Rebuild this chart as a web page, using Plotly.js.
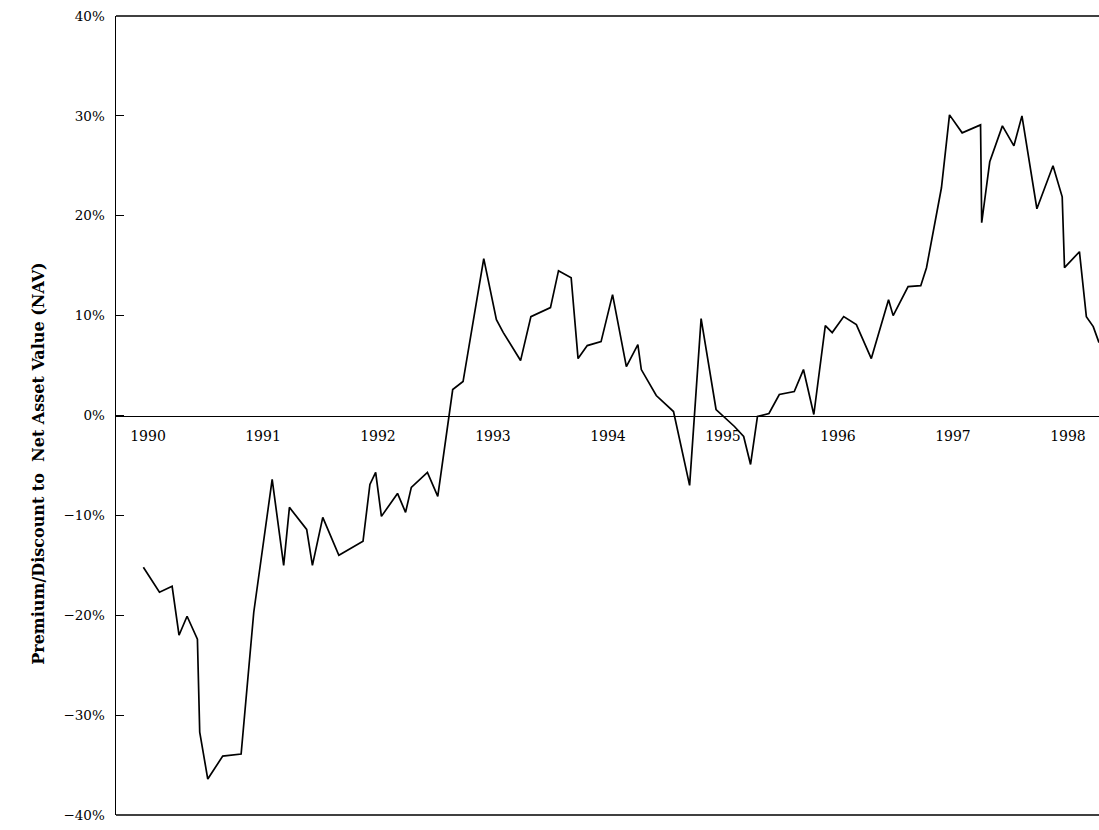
<!DOCTYPE html>
<html>
<head>
<meta charset="utf-8">
<script src="https://cdn.plot.ly/plotly-3.0.1.min.js"></script>
<style>
html,body{margin:0;padding:0;background:#fff;}
#chart{width:1099px;height:830px;}
</style>
</head>
<body>
<div id="chart"></div>
<script>
// Time in fractional years, premium/discount in percent
const years = [
  1989.96, 1990.10, 1990.21, 1990.27, 1990.34, 1990.43, 1990.45, 1990.52, 1990.65, 1990.81,
  1990.92, 1991.08, 1991.18, 1991.23, 1991.38, 1991.43, 1991.52, 1991.66, 1991.87, 1991.93,
  1991.98, 1992.03, 1992.17, 1992.24, 1992.29, 1992.43, 1992.52, 1992.65, 1992.74, 1992.92,
  1993.03, 1993.09, 1993.24, 1993.33, 1993.50, 1993.57, 1993.68, 1993.74, 1993.82, 1993.94,
  1994.04, 1994.16, 1994.26, 1994.29, 1994.42, 1994.57, 1994.71, 1994.81, 1994.94, 1995.10,
  1995.18, 1995.24, 1995.30, 1995.40, 1995.49, 1995.62, 1995.70, 1995.79, 1995.89, 1995.95,
  1996.05, 1996.16, 1996.29, 1996.44, 1996.48, 1996.61, 1996.72, 1996.77, 1996.90, 1996.97,
  1997.08, 1997.24, 1997.25, 1997.32, 1997.43, 1997.53, 1997.60, 1997.73, 1997.87, 1997.95,
  1997.97, 1998.10, 1998.16, 1998.22, 1998.27
];
const premium = [
  -15.2, -17.7, -17.1, -22.0, -20.1, -22.4, -31.7, -36.4, -34.1, -33.9,
  -19.7, -6.4, -15.0, -9.2, -11.4, -15.0, -10.2, -14.0, -12.6, -6.9,
  -5.7, -10.1, -7.8, -9.7, -7.2, -5.7, -8.1, 2.6, 3.4, 15.7,
  9.6, 8.3, 5.5, 9.9, 10.8, 14.5, 13.8, 5.7, 7.0, 7.4,
  12.1, 4.9, 7.1, 4.6, 2.0, 0.4, -7.0, 9.7, 0.6, -1.1,
  -2.1, -4.9, -0.1, 0.2, 2.1, 2.4, 4.6, 0.1, 9.0, 8.3,
  9.9, 9.1, 5.7, 11.6, 10.0, 12.9, 13.0, 14.8, 22.8, 30.1,
  28.3, 29.1, 19.3, 25.4, 29.0, 27.0, 30.0, 20.7, 25.0, 21.9,
  14.8, 16.4, 9.9, 8.9, 7.3
];
const yearTicks = [1990, 1991, 1992, 1993, 1994, 1995, 1996, 1997, 1998];
const yearLabels = ["1990", "1991", "1992", "1993", "1994", "1995", "1996", "1997", "1998"];
const pctTicks = [-40, -30, -20, -10, 0, 10, 20, 30, 40];
const pctLabels = ["\u221240%", "\u221230%", "\u221220%", "\u221210%", "0%", "10%", "20%", "30%", "40%"];
const yTitle = "Premium/Discount to  Net Asset Value (NAV)";

const serif = "DejaVu Serif, Liberation Serif, serif";

const trace = {
  x: years, y: premium, type: 'scatter', mode: 'lines',
  line: {color: '#000', width: 1.7}, hoverinfo: 'skip'
};

const layout = {
  width: 1099, height: 830,
  margin: {l: 116, r: 0, t: 16, b: 15},
  paper_bgcolor: '#fff', plot_bgcolor: '#fff',
  showlegend: false,
  xaxis: {
    range: [1989.722, 1998.27],
    anchor: 'free', position: 0.5,
    showline: true, linecolor: '#000', linewidth: 1.5,
    showgrid: false, zeroline: false,
    ticks: '', tickvals: yearTicks, ticktext: yearLabels,
    tickfont: {family: serif, size: 14, color: '#000'},
    ticklabelstandoff: 7
  },
  yaxis: {
    range: [-40, 40],
    showline: true, linecolor: '#000', linewidth: 1.5,
    showgrid: false, zeroline: false,
    ticks: 'inside', ticklen: 8, tickcolor: '#000', tickwidth: 1.2,
    tickvals: pctTicks, ticktext: pctLabels,
    tickfont: {family: serif, size: 13.5, color: '#000'},
    ticklabelstandoff: 7
  },
  annotations: [{
    text: yTitle, textangle: -90, showarrow: false,
    xref: 'paper', yref: 'paper', x: -0.079, y: 0.44,
    xanchor: 'center', yanchor: 'middle',
    font: {family: serif, size: 16, color: '#000', weight: 'bold'}
  }],
  shapes: [
    {type: 'line', xref: 'paper', yref: 'paper', x0: 0, x1: 1, y0: 1, y1: 1, line: {color: '#000', width: 1.5}},
    {type: 'line', xref: 'paper', yref: 'paper', x0: 0, x1: 1, y0: 0, y1: 0, line: {color: '#000', width: 1.5}}
  ]
};

Plotly.newPlot('chart', [trace], layout, {displayModeBar: false, staticPlot: true});
</script>
</body>
</html>
